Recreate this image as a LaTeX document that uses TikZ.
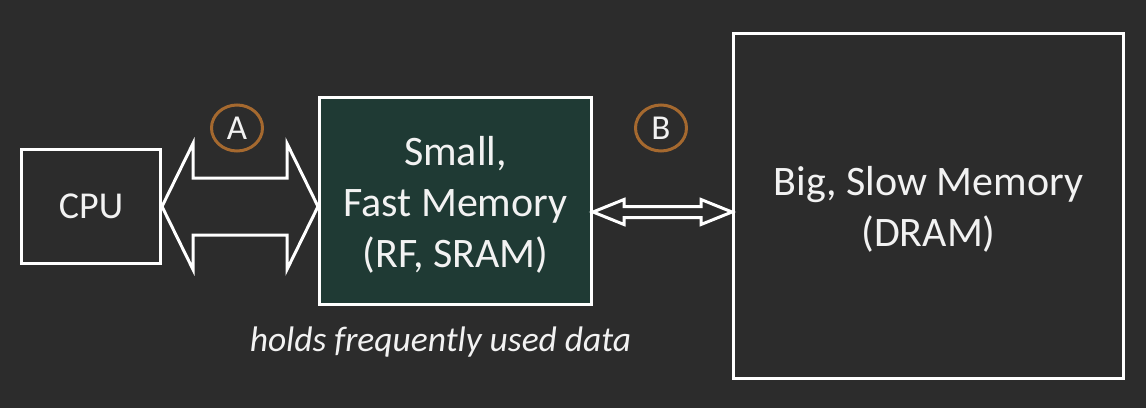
\documentclass[tikz,border=0pt]{standalone}
\usepackage{fontspec}
\setmainfont{Carlito}
\usetikzlibrary{shapes,arrows,calc}
\usetikzlibrary{positioning}
\definecolor{clrBack}{HTML}{2C2C2C}
\definecolor{clrFast}{HTML}{1F3A34}
\definecolor{clrRing}{HTML}{A5692F}
\definecolor{clrText}{HTML}{F2F2F2}
\tikzstyle{box_style}=[draw=white, line width=3pt, anchor=center, text centered, text=clrText]
\tikzstyle{membox}=[box_style, inner sep=0pt, font=\fontsize{42}{51}\selectfont, align=center]
\tikzstyle{fatarrow}=[draw=white, line width=3pt, line join=miter]
\tikzstyle{ring}=[draw=clrRing, line width=3pt, ellipse, inner sep=0pt, minimum width=51pt, minimum height=46pt, text=clrText, font=\fontsize{35}{35}\selectfont]

\begin{document}
\begin{tikzpicture}[x=1pt, y=1pt]
		\fill[clrBack] (0,0) rectangle (1146,408);
		\useasboundingbox (0,0) rectangle (1146,408);

		\node[box_style, minimum width=139pt, minimum height=114pt, font=\fontsize{38}{38}\selectfont] (cpu) at (91,201.5) {CPU} ;

		\node[membox, fill=clrFast, minimum width=272pt, text height=170pt, text depth=37pt] (fast) at (455.5,207) {Small,\\Fast Memory\\(RF, SRAM)} ;

		\node[membox, minimum width=390pt, text height=213pt, text depth=132pt] (big) at (928.5,202) {Big, Slow Memory\\(DRAM)} ;

		\node[text=clrText, font=\fontsize{35.5}{36}\itshape, below=17pt of fast, xshift=-15pt] (note) {holds frequently used data} ;

		% wide path CPU <-> small memory
		\coordinate (aL) at (cpu.east) ;
		\coordinate (aR) at (cpu.east -| fast.west) ;
		\draw[fatarrow] (aL) -- ++(31,63) -- ++(0,-34.5) -- ($(aR)+(-31,28.5)$) -- ++(0,34.5) -- (aR)
			-- ++(-31,-63) -- ++(0,34.5) -- ($(aL)+(31,-28.5)$) -- ++(0,-34.5) -- cycle ;

		% narrow path small memory <-> DRAM
		\coordinate (bL) at ($(fast.east)+(0,-11)$) ;
		\coordinate (bR) at (bL -| big.west) ;
		\draw[fatarrow] (bL) -- ++(31,12.5) -- ++(0,-7) -- ($(bR)+(-31,5.5)$) -- ++(0,7) -- (bR)
			-- ++(-31,-12.5) -- ++(0,7) -- ($(bL)+(31,-5.5)$) -- ++(0,-7) -- cycle ;

		\node[ring] (ringA) at (237,280) {A} ;
		\node[ring] (ringB) at (661,280) {B} ;

	\end{tikzpicture}
\end{document}
